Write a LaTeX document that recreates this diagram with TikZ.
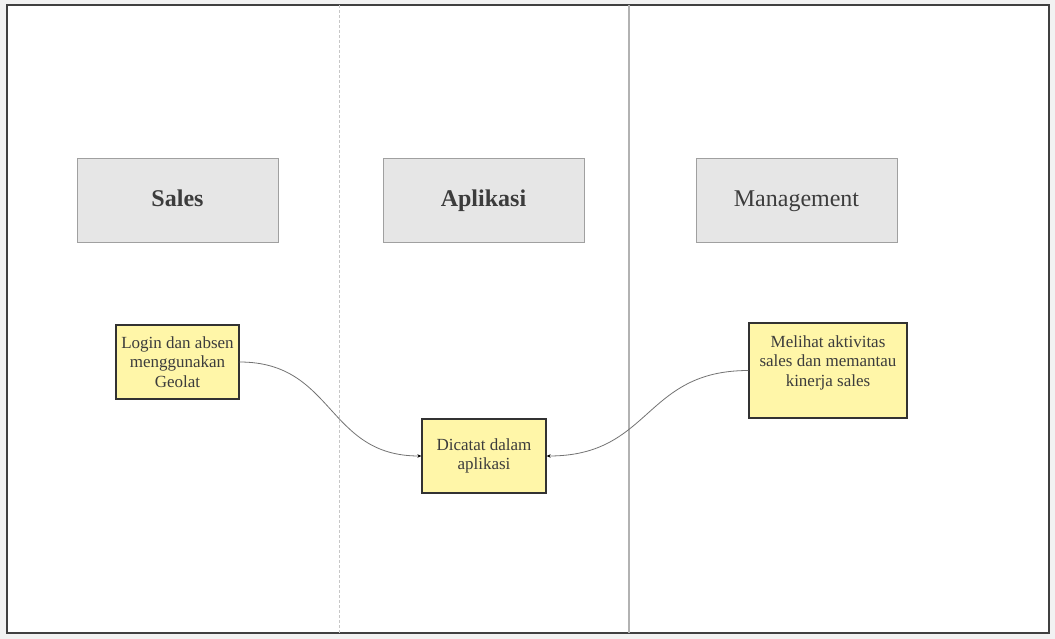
\documentclass[tikz,border=0pt]{standalone}
\usepackage{fontspec}
\setmainfont{Liberation Serif}
\usetikzlibrary{arrows.meta}

\definecolor{headfill}{RGB}{230,230,230}
\definecolor{headline}{RGB}{160,160,160}
\definecolor{notefill}{RGB}{255,246,168}
\definecolor{noteline}{RGB}{50,50,50}
\definecolor{textgray}{RGB}{60,60,60}
\definecolor{pagegray}{RGB}{242,242,242}

\tikzset{
  lanehead/.style={draw=headline, fill=headfill, line width=1pt, minimum width=201pt,
    minimum height=84pt, inner sep=0pt, text height=17pt, text depth=5pt,
    text=textgray, font=\fontsize{24}{28}\selectfont},
  notebox/.style={draw=noteline, fill=notefill, line width=1.3pt, inner sep=0pt,
    align=center, text=textgray, font=\fontsize{17}{19.5}\selectfont},
  flow/.style={draw=black!55, line width=0.8pt, -{Stealth[length=4pt,width=3.5pt,black]}}
}

\begin{document}
\begin{tikzpicture}[x=1pt,y=-1pt]
    \useasboundingbox (0,0) rectangle (1055,639);

    % page and frame
    \fill[pagegray] (0,0) rectangle (1055,639);
    \filldraw[fill=white, draw=black!75, line width=1.6pt] (7,5) rectangle (1049,633);

    % lane dividers
    \draw[black!22, line width=1pt, dash pattern=on 3pt off 2pt] (339,5) -- (339,633);
    \draw[black!30, line width=1.6pt] (629,5) -- (629,633);

    % lane headers
    \node[lanehead] (sales) at (177.5,201) {\textbf{Sales}};
    \node[lanehead] (aplikasi) at (483.5,201) {\textbf{Aplikasi}};
    \node[lanehead] (management) at (796.5,201) {Management};

    % activities
    \node[notebox, minimum width=123pt, minimum height=74pt] (login) at (177.5,362)
      {Login dan absen\\menggunakan\\Geolat};
    \node[notebox, minimum width=124pt, minimum height=74pt] (dicatat) at (484,456)
      {Dicatat dalam\\aplikasi};
    \node[notebox, minimum width=158pt, minimum height=95pt] (melihat) at (828,370.5)
      {Melihat aktivitas\\sales dan memantau\\kinerja sales\\ \mbox{}};

    % flows
    \draw[flow] (login.east) .. controls +(95,0) and +(-95,0) .. (dicatat.west);
    \draw[flow] (melihat.west) .. controls +(-105,0) and +(105,0) .. (dicatat.east);
  \end{tikzpicture}
\end{document}
